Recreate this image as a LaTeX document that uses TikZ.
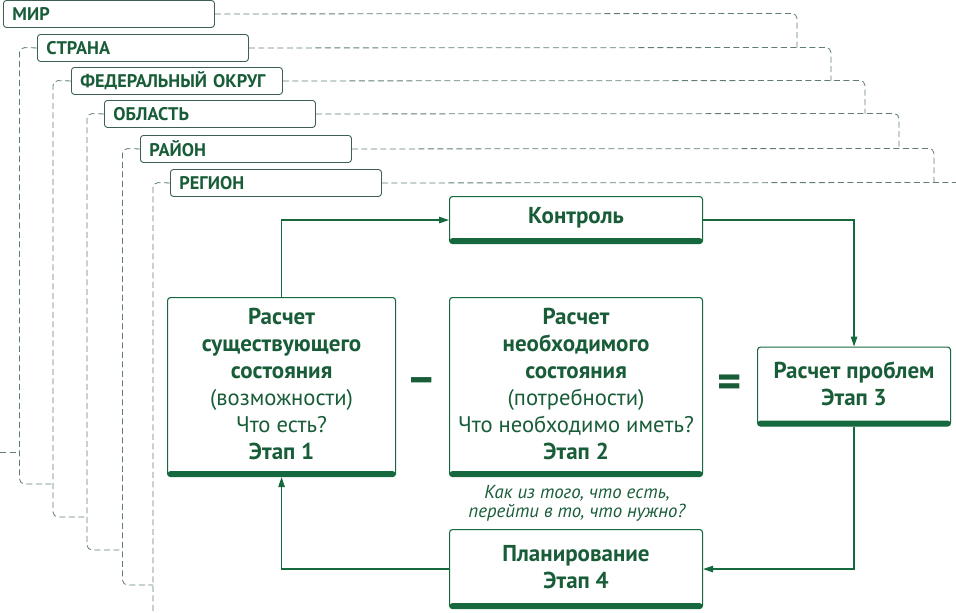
\documentclass[tikz,border=0pt]{standalone}
\usepackage{fontspec}
\setmainfont{PT Sans}
\usetikzlibrary{arrows.meta}
\definecolor{dgreen}{RGB}{22,104,62}
\definecolor{tgreen}{RGB}{24,92,56}
\definecolor{lvlborder}{RGB}{60,95,82}
\definecolor{dashcol}{RGB}{95,125,115}
\newcommand\bl{\fontsize{23}{27}\selectfont\bfseries}
\tikzset{
  levelbox/.style={draw=lvlborder, line width=0.9pt, rounded corners=3pt,
    anchor=north west, minimum height=27pt, text width=193pt, inner xsep=9pt,
    align=left, text=tgreen, font=\fontsize{18.3}{19}\selectfont\bfseries},
  stagebox/.style={draw=dgreen, line width=1.1pt, rounded corners=3pt,
    anchor=north west, inner sep=0pt,
    path picture={\fill[dgreen] (path picture bounding box.south west) rectangle ([yshift=5.5pt]path picture bounding box.south east);}},
  stagetext/.style={align=center, text=tgreen, inner sep=0pt, font=\fontsize{22.6}{27}\selectfont},
  lvlline/.style={draw=dashcol, line width=0.8pt, dash pattern=on 6pt off 3.5pt, rounded corners=5pt},
  flow/.style={draw=dgreen, line width=1.2pt, -{Triangle[length=10pt,width=6.5pt]}},
  oper/.style={text=tgreen, font=\fontsize{46}{46}\selectfont\bfseries, inner sep=0pt},
}
\begin{document}
\begin{tikzpicture}[x=1pt,y=-1pt]
\useasboundingbox (0,0) rectangle (956,613);
% level boxes
\node[levelbox] (mir)  at (3,0)   {МИР};
\node[levelbox] (str)  at (37,34) {СТРАНА};
\node[levelbox] (fed)  at (71,67) {ФЕДЕРАЛЬНЫЙ ОКРУГ};
\node[levelbox] (obl)  at (104,100) {ОБЛАСТЬ};
\node[levelbox] (ray)  at (140,135) {РАЙОН};
\node[levelbox] (reg)  at (170,169) {РЕГИОН};
% right dashed connectors
\coordinate (rend) at (956,182.5);
\draw[lvlline] (mir.east) -- (797,13.5) -- (797,47.5);
\draw[lvlline] (str.east) -- (831,47.5) -- (831,80.5);
\draw[lvlline] (fed.east) -- (865,80.5) -- (865,113.5);
\draw[lvlline] (obl.east) -- (899,113.5) -- (899,148.5);
\draw[lvlline] (ray.east) -- (934,148.5) -- (934,182.5);
\draw[lvlline] (reg.east) -- (rend);
% left dashed connectors
\coordinate (lstub) at (0,452);
\coordinate (lend) at (153,613);
\draw[lvlline] (lstub) -- (19.5,452);
\draw[lvlline] (str.west) -- (19.5,47.5) -- (19.5,484) -- (53,484);
\draw[lvlline] (fed.west) -- (53,80.5) -- (53,517) -- (87,517);
\draw[lvlline] (obl.west) -- (87,113.5) -- (87,550) -- (122.5,550);
\draw[lvlline] (ray.west) -- (122.5,148.5) -- (122.5,585) -- (153,585);
\draw[lvlline] (reg.west) -- (153,182.5) -- (lend);
% stage boxes
\node[stagebox, minimum width=253pt, minimum height=47pt] (kon) at (449,196) {};
\node[stagebox, minimum width=228pt, minimum height=179pt] (s1) at (167,297) {};
\node[stagebox, minimum width=253pt, minimum height=179pt] (s2) at (449,297) {};
\node[stagebox, minimum width=193pt, minimum height=79pt] (s3) at (757,346.5) {};
\node[stagebox, minimum width=253pt, minimum height=79pt] (s4) at (449,529) {};
% stage texts
\node[stagetext] (kont) at ([yshift=2.5pt]kon.center) {\bl Контроль};
\node[stagetext] (s1t) at ([yshift=3pt]s1.center)
  {\bl Расчет\\\bl существующего\\\bl состояния\\(возможности)\\Что есть?\\\bl Этап 1};
\node[stagetext] (s2t) at ([yshift=3pt]s2.center)
  {\bl Расчет\\\bl необходимого\\\bl состояния\\(потребности)\\Что необходимо иметь?\\\bl Этап 2};
\node[stagetext] (s3t) at ([yshift=2.5pt]s3.center) {\bl Расчет проблем\\\bl Этап 3};
\node[stagetext] (s4t) at ([yshift=1.5pt]s4.center) {\bl Планирование\\\bl Этап 4};
% operators
\node[oper] (minus) at (422,386) {–};
\node[oper] (equal) at (730,386) {=};
% italic question
\node[text=tgreen, align=center, font=\fontsize{18.8}{19}\selectfont\itshape] (q) at (577,503)
  {Как из того, что есть,\\перейти в то, что нужно?};
% flow arrows
\draw[flow] (s1.north) |- (kon.west);
\draw[flow] (kon.east) -| (s3.north);
\draw[flow] (s3.south) |- (s4.east);
\draw[flow] (s4.west) -| (s1.south);
\end{tikzpicture}
\end{document}
